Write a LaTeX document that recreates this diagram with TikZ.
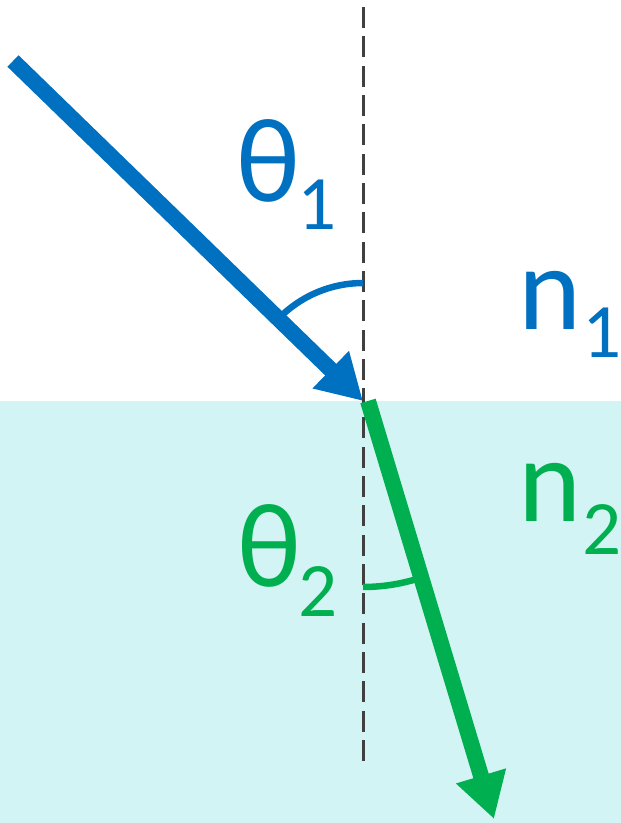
\documentclass[tikz,border=0pt]{standalone}
\usepackage{fontspec}
\setmainfont{Carlito}
\usetikzlibrary{arrows.meta}
\definecolor{rayblue}{HTML}{0070C0}
\definecolor{raygreen}{HTML}{00B050}
\definecolor{water}{HTML}{D3F4F4}
\definecolor{normalgrey}{HTML}{404040}
\tikzset{
  ray/.style={line width=16pt, -{Triangle[length=45pt,width=49pt]}},
  anglearc/.style={line width=6.5pt},
  bigsym/.style={inner sep=0pt, anchor=base, font=\fontsize{120}{120}\selectfont},
  subsym/.style={inner sep=0pt, anchor=base, font=\fontsize{77}{77}\selectfont},
}
\begin{document}
\begin{tikzpicture}[x=1pt,y=1pt]
\useasboundingbox (0,0) rectangle (621,823);
% lower medium
\fill[water] (0,0) rectangle (621,422);
% normal
\coordinate (ntop) at (363.5,816);
\coordinate (nbot) at (363.5,61);
\coordinate (hit) at (363,422);
\draw[normalgrey, line width=2.6pt, dash pattern=on 21pt off 8.32pt] (ntop) -- (nbot);
% angle arcs
\draw[draw=rayblue, anglearc] (363,540) arc[start angle=90, end angle=136, radius=118];
\draw[draw=raygreen, anglearc] (363,236) arc[start angle=-90, end angle=-73.2, radius=186];
% rays
\coordinate (src) at (13,762);
\coordinate (gstart) at (368,422);
\coordinate (gend) at (494,4);
\draw[rayblue, ray] (src) -- (hit);
\draw[raygreen, ray] (gstart) -- (gend);
% labels
\node[bigsym, text=rayblue] (t1) at (268.5,621) {θ};
\node[subsym, text=rayblue] (t1s) at (317.5,593) {1};
\node[bigsym, text=raygreen] (t2) at (269,236) {θ};
\node[subsym, text=raygreen] (t2s) at (318.5,206) {2};
\node[bigsym, text=rayblue] (n1) at (550.5,493) {n};
\node[subsym, text=rayblue] (n1s) at (602.5,465) {1};
\node[bigsym, text=raygreen] (n2) at (550.5,301) {n};
\node[subsym, text=raygreen] (n2s) at (602,268) {2};
\end{tikzpicture}
\end{document}
